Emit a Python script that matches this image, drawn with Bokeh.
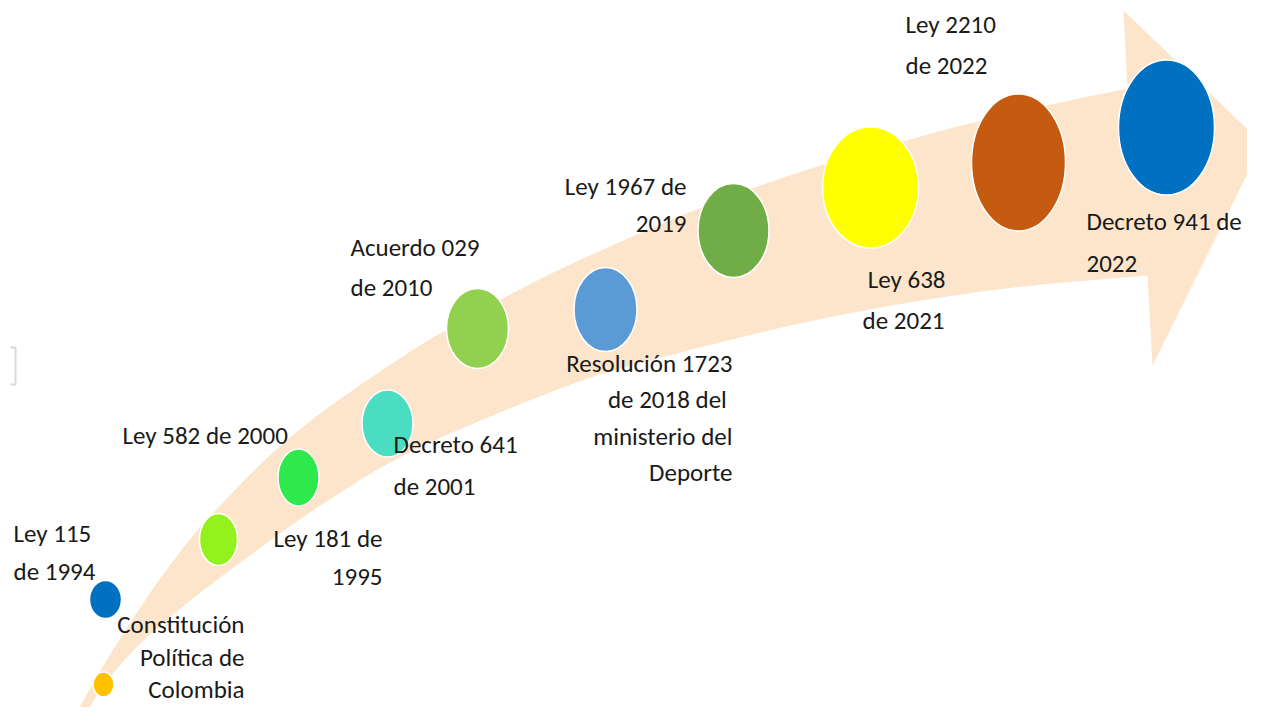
import numpy as np
from bokeh.plotting import figure
from bokeh.models import Range1d, ColumnDataSource
from bokeh.core.properties import value
from bokeh.embed import file_html
from bokeh.resources import INLINE

# ---- Timeline milestones (circle centre, size, colour) in picture pixels ----
circle_x = [103, 105, 218, 298, 387, 477, 605, 733, 870, 1018, 1166]
circle_y = [684, 599, 539, 477, 423, 328, 309, 230, 187, 162, 127]
circle_w = [21, 32, 38, 41, 51, 62, 63, 71, 96, 94, 96]
circle_h = [25, 38, 52, 57, 67, 80, 84, 94, 121, 137, 135]
circle_colors = ["#FFC000", "#0070C0", "#93F11E", "#2DE94B", "#4ADDC1",
                 "#92D050", "#5B9BD5", "#70AD47", "#FFFF00", "#C55A11", "#0070C0"]

# ---- Labels (one entry per text line; y is the baseline) ----
left_text = ["Ley 115", "de 1994", "Ley 582 de 2000", "Decreto 641", "de 2001",
             "Acuerdo 029", "de 2010", "Ley 2210", "de 2022",
             "Decreto 941 de", "2022"]
left_x = [13, 13, 122, 393, 393, 350, 350, 905, 905, 1086, 1086]
left_y = [542, 580, 444, 453, 495, 256, 296, 33, 74, 230, 272]

right_text = ["Constitución", "Política de", "Colombia", "Ley 181 de", "1995",
              "Ley 1967 de", "2019", "Resolución 1723", "de  2018 del",
              "ministerio del", "Deporte", "Ley 638", "de 2021"]
right_x = [244, 244, 244, 382, 382, 686, 686, 732, 732, 732, 732, 945, 944]
right_y = [633, 666, 698, 547, 585, 195, 232, 372, 408, 445, 481, 288, 329]

# ---- Arrow band outline control points ----
upper_edge_x = [70, 100, 130, 167, 213, 293, 393, 480, 574, 699, 823, 989, 1127]
upper_edge_y = [723, 670, 622, 568, 512, 434, 362, 310, 262, 208, 164, 118, 88]
head_x = [1123, 1262, 1152]
head_y = [10, 143, 365]
lower_edge_x = [1147, 989, 823, 657, 560, 413, 320, 240, 190, 145, 115, 95, 82]
lower_edge_y = [275, 290, 318, 358, 388, 450, 505, 562, 600, 638, 670, 697, 723]

BAND = "#FDE5CC"
TEXT = "#1A1A1A"
FONT = "Carlito, Lato, sans-serif"
BASELINE_SHIFT = 9  # renderer draws alphabetic baseline slightly low


def smooth(xs, ys, n=14):
    pts = np.column_stack([xs, ys]).astype(float)
    pts = np.vstack([pts[0], pts, pts[-1]])
    out = []
    for i in range(1, len(pts) - 2):
        p0, p1, p2, p3 = pts[i - 1], pts[i], pts[i + 1], pts[i + 2]
        for t in np.linspace(0, 1, n, endpoint=False):
            t2, t3 = t * t, t * t * t
            out.append(0.5 * ((2 * p1) + (-p0 + p2) * t +
                              (2 * p0 - 5 * p1 + 4 * p2 - p3) * t2 +
                              (-p0 + 3 * p1 - 3 * p2 + p3) * t3))
    out.append(pts[-2])
    out = np.array(out)
    return list(out[:, 0]), list(out[:, 1])


ux, uy = smooth(upper_edge_x, upper_edge_y)
lx, ly = smooth(lower_edge_x, lower_edge_y)
arrow_x = ux + head_x + lx
arrow_y = uy + head_y + ly

W, H = 1247, 707
p = figure(width=W, height=H, output_backend="svg", toolbar_location=None,
           x_range=Range1d(0, W), y_range=Range1d(H, 0),
           min_border=0, background_fill_color="white", border_fill_color="white")
p.axis.visible = False
p.grid.visible = False
p.outline_line_color = None

p.patch(arrow_x, arrow_y, fill_color=BAND, line_color=None)

# small grey bracket at left
p.line([10, 15, 15, 10], [347, 347, 384, 384], line_color="#DADADA", line_width=2)

src = ColumnDataSource(dict(x=circle_x, y=circle_y, w=circle_w, h=circle_h, c=circle_colors))
p.ellipse(x="x", y="y", width="w", height="h", fill_color="c", line_color="white",
          line_width=1.5, source=src)

p.text(x=left_x, y=[v - BASELINE_SHIFT for v in left_y], text=left_text,
       text_align="left", text_baseline="alphabetic",
       text_font=value(FONT), text_font_size="25px", text_color=TEXT)
p.text(x=right_x, y=[v - BASELINE_SHIFT for v in right_y], text=right_text,
       text_align="right", text_baseline="alphabetic",
       text_font=value(FONT), text_font_size="25px", text_color=TEXT)

open("out.html", "w").write(file_html(p, INLINE))
